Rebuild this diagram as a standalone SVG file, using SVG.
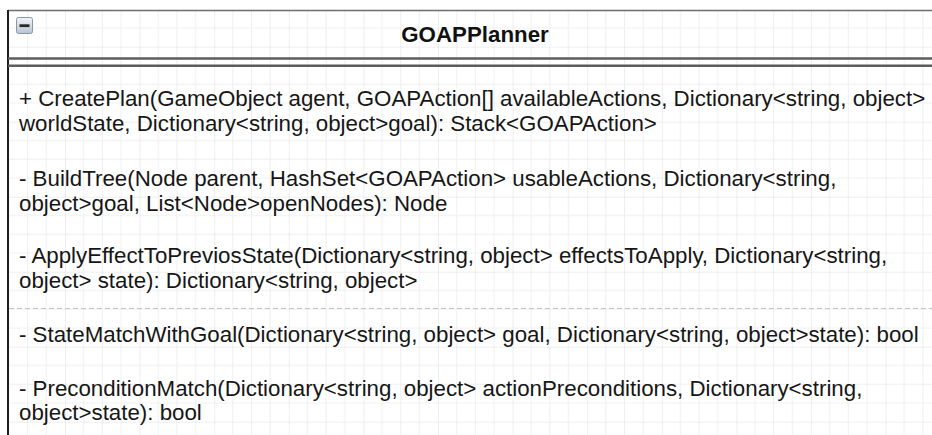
<svg xmlns="http://www.w3.org/2000/svg" width="932" height="435" viewBox="0 0 932 435">
  <defs>
    <!-- background grid: major line every 4 cells -->
    <pattern id="grid" patternUnits="userSpaceOnUse" x="65" y="46.7" width="74.6" height="75">
      <g fill="#efefef">
        <rect x="18.15" y="0" width="1" height="75"/>
        <rect x="36.8" y="0" width="1" height="75"/>
        <rect x="55.45" y="0" width="1" height="75"/>
        <rect x="0" y="18.25" width="74.6" height="1"/>
        <rect x="0" y="36.999" width="74.6" height="1"/>
        <rect x="0" y="55.75" width="74.6" height="1"/>
      </g>
      <g fill="#dedede">
        <rect x="-0.5" y="0" width="1" height="75"/>
        <rect x="0" y="-0.5" width="74.6" height="1"/>
      </g>
    </pattern>
    <linearGradient id="iconFill" x1="0" y1="0" x2="0" y2="1">
      <stop offset="0" stop-color="#f2f5f9"/>
      <stop offset="1" stop-color="#b8c4d2"/>
    </linearGradient>
  </defs>
  <style>
    .member { font-family: "Liberation Sans", Arial, sans-serif; font-size: 22.3px; fill: #161616; }
    .title { font-family: "Liberation Sans", Arial, sans-serif; font-size: 22.3px; font-weight: bold; fill: #111; }
    .sep { stroke: #5c5c5c; stroke-width: 2.5; fill: none; }
    .divider { stroke: #c4c4c4; stroke-width: 1; stroke-dasharray: 5 3; fill: none; }
  </style>

  <rect width="932" height="435" fill="#ffffff"/>

  <g id="GOAPPlanner">
    <!-- class body with grid showing through -->
    <rect x="8" y="10.5" width="934" height="430" fill="url(#grid)"/>
    <line x1="8" y1="10.5" x2="932" y2="10.5" stroke="#6e6e6e" stroke-width="1.5"/>
    <line x1="8" y1="10" x2="8" y2="435" stroke="#1e1e1e" stroke-width="2"/>

    <!-- collapse toggle -->
    <g id="collapse-toggle">
      <rect x="16.5" y="17.5" width="16" height="16" rx="2" fill="url(#iconFill)" stroke="#8797aa" stroke-width="1"/>
      <rect x="19.5" y="24.3" width="10" height="2.8" fill="#2a2a2a"/>
    </g>

    <text class="title" x="475" y="42" text-anchor="middle">GOAPPlanner</text>

    <!-- header / body separator -->
    <line class="sep" x1="8" y1="58.5" x2="932" y2="58.5"/>
    <line class="sep" x1="8" y1="65.8" x2="932" y2="65.8"/>

    <!-- operations -->
    <text class="member" x="19" y="106">+ CreatePlan(GameObject agent, GOAPAction[] availableActions, Dictionary&lt;string, object&gt;</text>
    <text class="member" x="19" y="130.5">worldState, Dictionary&lt;string, object&gt;goal): Stack&lt;GOAPAction&gt;</text>

    <text class="member" x="19" y="186">- BuildTree(Node parent, HashSet&lt;GOAPAction&gt; usableActions, Dictionary&lt;string,</text>
    <text class="member" x="19" y="210.5">object&gt;goal, List&lt;Node&gt;openNodes): Node</text>

    <text class="member" x="19" y="263">- ApplyEffectToPreviosState(Dictionary&lt;string, object&gt; effectsToApply, Dictionary&lt;string,</text>
    <text class="member" x="19" y="287.5">object&gt; state): Dictionary&lt;string, object&gt;</text>

    <line class="divider" x1="9" y1="308.5" x2="932" y2="308.5"/>

    <text class="member" x="19" y="342">- StateMatchWithGoal(Dictionary&lt;string, object&gt; goal, Dictionary&lt;string, object&gt;state): bool</text>

    <text class="member" x="19" y="395.5">- PreconditionMatch(Dictionary&lt;string, object&gt; actionPreconditions, Dictionary&lt;string,</text>
    <text class="member" x="19" y="420">object&gt;state): bool</text>
  </g>
</svg>
